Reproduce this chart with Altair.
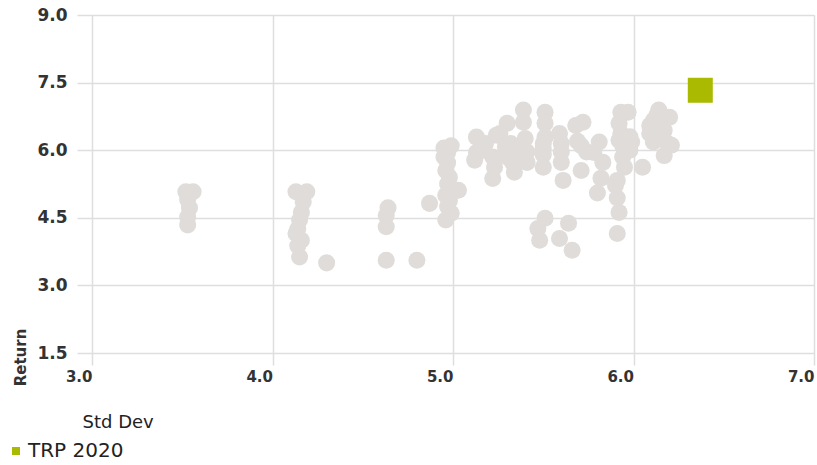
import altair as alt
import pandas as pd

# Peer universe: annualised standard deviation vs. return
peer_std = [
    3.52, 3.56, 3.53, 3.54, 3.53, 3.53,
    4.13, 4.19, 4.17, 4.16, 4.15, 4.14, 4.13, 4.16, 4.14, 4.15,
    4.30,
    4.64, 4.63, 4.63, 4.63,
    4.80, 4.87,
    4.95, 4.99, 4.97, 4.95, 4.97, 4.96, 4.98, 4.97, 4.99, 4.96, 4.98, 4.97, 4.99, 4.96, 5.03,
    5.13, 5.12, 5.18, 5.22, 5.23, 5.24, 5.13, 5.17, 5.22, 5.26, 5.30, 5.29, 5.30, 5.34,
    5.33, 5.32, 5.33, 5.39, 5.39, 5.40, 5.39, 5.36, 5.41, 5.41,
    5.51, 5.51, 5.51, 5.50, 5.50, 5.50, 5.50,
    5.59, 5.60, 5.60, 5.60, 5.61, 5.68, 5.72, 5.71, 5.71, 5.69,
    5.78, 5.81, 5.83, 5.82, 5.80, 5.74,
    5.91, 5.91, 5.92, 5.91, 5.90,
    5.93, 5.97, 5.92, 5.93, 5.94, 5.94, 5.95, 5.99, 5.92, 5.95,
    6.05, 6.09, 6.11, 6.14, 6.11, 6.17, 6.20, 6.19, 6.17, 6.13, 6.09, 6.16, 6.21, 5.98, 5.98,
    5.51, 5.47, 5.48, 5.64, 5.59, 5.66,
]
peer_return = [
    5.08, 5.08, 4.90, 4.72, 4.52, 4.34,
    5.08, 5.08, 4.85, 4.62, 4.45, 4.25, 4.15, 4.00, 3.88, 3.63,
    3.50,
    4.72, 4.55, 4.30, 3.56,
    3.56, 4.82,
    6.05, 6.10, 5.95, 5.85, 5.72, 5.55, 5.40, 5.25, 5.10, 5.00, 4.88, 4.75, 4.60, 4.45, 5.11,
    6.29, 5.78, 6.15, 5.37, 5.62, 6.33, 5.95, 6.00, 5.85, 6.37, 6.60, 6.07, 5.85, 5.51,
    6.00, 6.15, 5.73, 6.89, 6.62, 6.26, 5.78, 6.04, 5.96, 5.73,
    6.84, 6.60, 6.29, 6.04, 5.62, 6.15, 5.90,
    6.37, 6.15, 5.96, 5.73, 5.33, 6.55, 6.62, 6.10, 5.55, 6.20,
    5.95, 6.18, 5.73, 5.38, 5.05, 5.96,
    5.33, 4.94, 4.62, 4.15, 5.22,
    6.84, 6.84, 6.60, 6.37, 6.10, 5.85, 5.62, 6.18, 6.22, 5.96,
    5.62, 6.37, 6.66, 6.89, 6.18, 6.44, 6.73, 6.15, 5.88, 6.78, 6.55, 6.49, 6.11, 6.30, 6.00,
    4.49, 4.26, 4.00, 4.38, 4.04, 3.78,
]

# Highlighted fund
fund_name = ["TRP 2020"]
fund_std = [6.37]
fund_return = [7.33]

x_ticks = [3.0, 4.0, 5.0, 6.0, 7.0]
y_ticks = [1.5, 3.0, 4.5, 6.0, 7.5, 9.0]

peers = pd.DataFrame({"std": peer_std, "ret": peer_return})
fund = pd.DataFrame({"std": fund_std, "ret": fund_return, "series": fund_name})

FONT = "DejaVu Sans"
GRID = "#dedede"
TEXT = "#333333"

x_enc = alt.X(
    "std:Q",
    scale=alt.Scale(domain=[3.0, 7.0], nice=False, zero=False),
    axis=alt.Axis(
        title="Std Dev",
        values=x_ticks,
        format=".1f",
        grid=True,
        gridColor=GRID,
        gridWidth=1.5,
        domain=False,
        ticks=True,
        tickColor=GRID,
        tickWidth=1.5,
        tickSize=12,
        labelAlign="right",
        labelBaseline="top",
        labelPadding=4,
        labelFont=FONT,
        labelFontSize=15,
        labelFontWeight="bold",
        labelColor=TEXT,
        titleFont=FONT,
        titleFontSize=18,
        titleFontWeight="normal",
        titleColor="#222222",
        titleAnchor="start",
        titleAlign="left",
        titleBaseline="middle",
        titleX=-10,
        titleY=69,
    ),
)
y_enc = alt.Y(
    "ret:Q",
    scale=alt.Scale(domain=[1.5, 9.0], nice=False, zero=False),
    axis=alt.Axis(
        title="Return",
        values=y_ticks,
        format=".1f",
        grid=True,
        gridColor=GRID,
        gridWidth=1.5,
        domain=False,
        ticks=True,
        tickColor=GRID,
        tickWidth=1.5,
        tickSize=15,
        labelPadding=10,
        labelFont=FONT,
        labelFontSize=17,
        labelFontWeight="bold",
        labelColor=TEXT,
        titleFont=FONT,
        titleFontSize=15,
        titleFontWeight="bold",
        titleColor=TEXT,
        titleAngle=270,
        titleAlign="center",
        titleBaseline="middle",
        titleX=-72,
        titleY=342,
    ),
)

peer_layer = alt.Chart(peers).mark_circle(size=290, color="#e0dcda", opacity=1).encode(
    x=x_enc, y=y_enc
)

fund_layer = alt.Chart(fund).mark_point(
    shape="square", size=625, filled=True, opacity=1
).encode(
    x="std:Q",
    y="ret:Q",
    color=alt.Color(
        "series:N",
        scale=alt.Scale(domain=fund_name, range=["#a9ba00"]),
        legend=alt.Legend(
            title=None,
            orient="none",
            legendX=-86,
            legendY=426,
            symbolType="square",
            symbolSize=64,
            symbolStrokeWidth=0,
            symbolOpacity=1,
            labelFont=FONT,
            labelFontSize=20,
            labelColor="#222222",
            labelOffset=2,
            padding=0,
        ),
    ),
)

chart = (
    alt.layer(peer_layer, fund_layer)
    .properties(
        width=722,
        height=338,
        autosize=alt.AutoSizeParams(type="none"),
        padding={"left": 92, "top": 15, "right": 3, "bottom": 112},
    )
    .configure_view(stroke=None)
    .configure(background="white")
)

chart.save("out.html", embed_options={"renderer": "svg", "actions": False})
